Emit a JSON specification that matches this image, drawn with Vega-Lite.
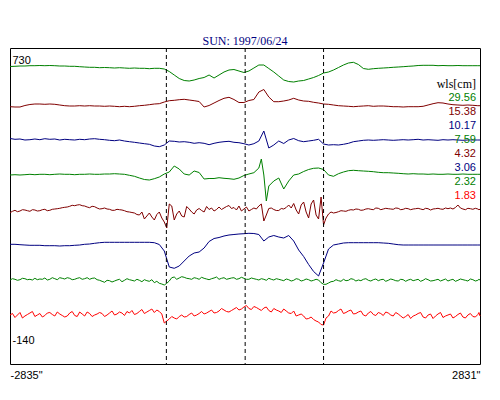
{
  "$schema": "https://vega.github.io/schema/vega-lite/v6.json",
  "width": 470,
  "height": 316,
  "autosize": {"type": "none"},
  "padding": {"left": 10, "top": 48, "right": 20, "bottom": 36},
  "background": "white",
  "title": {"text": "SUN: 1997/06/24", "font": "Liberation Serif", "fontSize": 12, "fontWeight": "normal", "color": "#000080", "anchor": "middle", "offset": 0},
  "config": {"view": {"stroke": "black", "strokeWidth": 1}},
  "datasets": {
    "wls": [
      {"s": "s1", "wl": "29.56"}, {"s": "s2", "wl": "15.38"}, {"s": "s3", "wl": "10.17"}, {"s": "s4", "wl": "7.59"},
      {"s": "s5", "wl": "4.32"}, {"s": "s6", "wl": "3.06"}, {"s": "s7", "wl": "2.32"}, {"s": "s8", "wl": "1.83"}
    ],
    "limbs": [{"limb": -950}, {"limb": 0}, {"limb": 945}],
    "traces": [
      {"x": -2835, "s1": 66.5, "s2": 106.7, "s3": 138.5, "s4": 175, "s5": 212.7, "s6": 244.3, "s7": 280, "s8": 315},
      {"x": -2775, "s1": 66.3, "s2": 107, "s3": 139.3, "s4": 174.7, "s5": 210.3, "s6": 244.3, "s7": 279.3, "s8": 317.5},
      {"x": -2715, "s1": 66, "s2": 107, "s3": 139, "s4": 175, "s5": 211, "s6": 244.7, "s7": 279.7, "s8": 312.5},
      {"x": -2655, "s1": 66, "s2": 105.5, "s3": 140, "s4": 174.7, "s5": 210, "s6": 245, "s7": 278.7, "s8": 316},
      {"x": -2595, "s1": 65.7, "s2": 104.5, "s3": 139.7, "s4": 174.3, "s5": 211.3, "s6": 245.3, "s7": 279.3, "s8": 313},
      {"x": -2535, "s1": 65.7, "s2": 104, "s3": 139, "s4": 174.7, "s5": 210, "s6": 245.3, "s7": 278.3, "s8": 316.5},
      {"x": -2475, "s1": 65.5, "s2": 104, "s3": 139.7, "s4": 174.3, "s5": 210.7, "s6": 245.3, "s7": 279, "s8": 313.5},
      {"x": -2415, "s1": 65.7, "s2": 104.3, "s3": 138.7, "s4": 174.3, "s5": 209.3, "s6": 245.7, "s7": 278, "s8": 315.5},
      {"x": -2355, "s1": 65.5, "s2": 104, "s3": 139.3, "s4": 174.7, "s5": 210.3, "s6": 245.7, "s7": 279.3, "s8": 312.5},
      {"x": -2295, "s1": 65.7, "s2": 104.3, "s3": 139, "s4": 174.3, "s5": 209, "s6": 245.7, "s7": 278.7, "s8": 316},
      {"x": -2235, "s1": 66, "s2": 105, "s3": 140, "s4": 174, "s5": 208.3, "s6": 246, "s7": 277.7, "s8": 314},
      {"x": -2175, "s1": 66, "s2": 105.7, "s3": 139.3, "s4": 174.3, "s5": 207.3, "s6": 245.7, "s7": 279, "s8": 317},
      {"x": -2115, "s1": 66.3, "s2": 106, "s3": 139.7, "s4": 174.3, "s5": 206.3, "s6": 245.7, "s7": 278.3, "s8": 313},
      {"x": -2055, "s1": 66.3, "s2": 106, "s3": 140, "s4": 174.7, "s5": 205.7, "s6": 245.3, "s7": 279.3, "s8": 315.5},
      {"x": -1995, "s1": 66.7, "s2": 105.7, "s3": 139.3, "s4": 174.3, "s5": 204.7, "s6": 245, "s7": 277.7, "s8": 312},
      {"x": -1935, "s1": 67, "s2": 106, "s3": 139.7, "s4": 174.3, "s5": 206, "s6": 244.3, "s7": 278.7, "s8": 316},
      {"x": -1875, "s1": 67.3, "s2": 105.7, "s3": 139, "s4": 174, "s5": 207.7, "s6": 244, "s7": 279.3, "s8": 313.5},
      {"x": -1815, "s1": 67.3, "s2": 106, "s3": 138.7, "s4": 174.3, "s5": 206.7, "s6": 243.3, "s7": 278, "s8": 315},
      {"x": -1755, "s1": 67.7, "s2": 106, "s3": 139.3, "s4": 174.3, "s5": 209, "s6": 242.7, "s7": 280.3, "s8": 312.5},
      {"x": -1695, "s1": 67.5, "s2": 106.3, "s3": 139.7, "s4": 174, "s5": 208, "s6": 242.3, "s7": 282.3, "s8": 316.5},
      {"x": -1635, "s1": 67.7, "s2": 106, "s3": 140.3, "s4": 174, "s5": 209.3, "s6": 242.3, "s7": 280.7, "s8": 313},
      {"x": -1575, "s1": 68, "s2": 106.3, "s3": 140.7, "s4": 173.7, "s5": 210.3, "s6": 242.3, "s7": 281, "s8": 315},
      {"x": -1515, "s1": 67.7, "s2": 106.7, "s3": 140, "s4": 174, "s5": 209.7, "s6": 242.3, "s7": 279.3, "s8": 312},
      {"x": -1455, "s1": 68, "s2": 106.3, "s3": 141, "s4": 174.3, "s5": 210.7, "s6": 242.3, "s7": 280.3, "s8": 315.5},
      {"x": -1395, "s1": 68.3, "s2": 106.7, "s3": 141.7, "s4": 175.3, "s5": 212, "s6": 242.3, "s7": 279.7, "s8": 313},
      {"x": -1335, "s1": 68, "s2": 106.3, "s3": 142.3, "s4": 176.3, "s5": 213, "s6": 242.3, "s7": 281, "s8": 314.5},
      {"x": -1275, "s1": 68.3, "s2": 105.7, "s3": 143, "s4": 178, "s5": 215, "s6": 242.3, "s7": 280.3, "s8": 311.5},
      {"x": -1215, "s1": 68.3, "s2": 105.3, "s3": 143.7, "s4": 179.5, "s5": 219, "s6": 242.3, "s7": 279.7, "s8": 313.5},
      {"x": -1155, "s1": 68.7, "s2": 104.7, "s3": 144.3, "s4": 180, "s5": 213, "s6": 242.3, "s7": 281.3, "s8": 310.5},
      {"x": -1095, "s1": 68.3, "s2": 104, "s3": 146, "s4": 178.7, "s5": 220, "s6": 242.7, "s7": 282.7, "s8": 312.5},
      {"x": -1035, "s1": 68.3, "s2": 103.7, "s3": 146.7, "s4": 177, "s5": 212, "s6": 244.5, "s7": 283.3, "s8": 311.5},
      {"x": -975, "s1": 69, "s2": 102, "s3": 145, "s4": 174, "s5": 222, "s6": 251, "s7": 285, "s8": 323},
      {"x": -915, "s1": 71.5, "s2": 100.7, "s3": 141, "s4": 172, "s5": 204, "s6": 267, "s7": 281, "s8": 319},
      {"x": -855, "s1": 75, "s2": 100.3, "s3": 141.3, "s4": 166, "s5": 220, "s6": 268.3, "s7": 277, "s8": 318},
      {"x": -795, "s1": 78.5, "s2": 99.7, "s3": 142, "s4": 169, "s5": 211, "s6": 266, "s7": 278, "s8": 316.5},
      {"x": -735, "s1": 80.5, "s2": 99.3, "s3": 141.7, "s4": 174, "s5": 217, "s6": 261, "s7": 277.3, "s8": 317},
      {"x": -675, "s1": 81, "s2": 100, "s3": 142.3, "s4": 175, "s5": 209, "s6": 256, "s7": 278.7, "s8": 314.5},
      {"x": -615, "s1": 80, "s2": 100.7, "s3": 143.3, "s4": 171, "s5": 214, "s6": 253, "s7": 277.7, "s8": 316},
      {"x": -555, "s1": 78.5, "s2": 101.5, "s3": 142.7, "s4": 172.5, "s5": 208.5, "s6": 252, "s7": 279.3, "s8": 313.5},
      {"x": -495, "s1": 77.5, "s2": 107, "s3": 143.3, "s4": 179, "s5": 212, "s6": 248, "s7": 278.3, "s8": 314},
      {"x": -435, "s1": 75, "s2": 105.5, "s3": 144.7, "s4": 178.5, "s5": 209.5, "s6": 241.5, "s7": 279.7, "s8": 311.5},
      {"x": -375, "s1": 78, "s2": 103, "s3": 143.3, "s4": 178.5, "s5": 211, "s6": 238.5, "s7": 278, "s8": 313},
      {"x": -315, "s1": 75, "s2": 100.5, "s3": 142.3, "s4": 177.7, "s5": 207, "s6": 237.5, "s7": 279.3, "s8": 311},
      {"x": -255, "s1": 72, "s2": 98.3, "s3": 141.7, "s4": 178.3, "s5": 208, "s6": 236, "s7": 277.7, "s8": 310},
      {"x": -195, "s1": 70, "s2": 97.3, "s3": 141.3, "s4": 178.7, "s5": 205.5, "s6": 235, "s7": 278.7, "s8": 312},
      {"x": -135, "s1": 69.5, "s2": 99.5, "s3": 142.3, "s4": 179.3, "s5": 207.5, "s6": 234.5, "s7": 277.7, "s8": 309},
      {"x": -75, "s1": 71, "s2": 102.5, "s3": 142.7, "s4": 178, "s5": 206, "s6": 234, "s7": 278.7, "s8": 310},
      {"x": -15, "s1": 72.5, "s2": 102.5, "s3": 143.7, "s4": 175.5, "s5": 209, "s6": 233.7, "s7": 278.3, "s8": 307},
      {"x": 45, "s1": 71, "s2": 100.5, "s3": 145, "s4": 174, "s5": 211, "s6": 233.3, "s7": 279.3, "s8": 308.5},
      {"x": 105, "s1": 68, "s2": 99.5, "s3": 143.7, "s4": 172.7, "s5": 208, "s6": 233.5, "s7": 278.7, "s8": 306.5},
      {"x": 165, "s1": 65, "s2": 92, "s3": 141, "s4": 168, "s5": 206, "s6": 234.5, "s7": 280, "s8": 309},
      {"x": 225, "s1": 65, "s2": 89.5, "s3": 131, "s4": 175, "s5": 221, "s6": 241, "s7": 279.3, "s8": 308},
      {"x": 285, "s1": 68.5, "s2": 97, "s3": 148, "s4": 186, "s5": 208.5, "s6": 237, "s7": 278.3, "s8": 310.5},
      {"x": 345, "s1": 72, "s2": 101.7, "s3": 145, "s4": 181, "s5": 209.5, "s6": 235.5, "s7": 280, "s8": 308.5},
      {"x": 405, "s1": 76, "s2": 101.7, "s3": 141, "s4": 178, "s5": 210.5, "s6": 237, "s7": 279.3, "s8": 311},
      {"x": 465, "s1": 80, "s2": 101, "s3": 143.5, "s4": 189, "s5": 209, "s6": 238, "s7": 280.7, "s8": 309},
      {"x": 525, "s1": 81.5, "s2": 100, "s3": 140, "s4": 181, "s5": 205, "s6": 235.5, "s7": 279.7, "s8": 313},
      {"x": 585, "s1": 82, "s2": 98.3, "s3": 138.5, "s4": 175, "s5": 203.5, "s6": 241, "s7": 280.3, "s8": 311},
      {"x": 645, "s1": 81, "s2": 100, "s3": 140.7, "s4": 174, "s5": 214, "s6": 250, "s7": 279.3, "s8": 315},
      {"x": 705, "s1": 80.5, "s2": 101, "s3": 141.7, "s4": 171.5, "s5": 202, "s6": 256.5, "s7": 280.3, "s8": 316},
      {"x": 765, "s1": 79, "s2": 101.3, "s3": 141, "s4": 169.5, "s5": 218, "s6": 264.5, "s7": 279.7, "s8": 318.5},
      {"x": 825, "s1": 77.5, "s2": 102.3, "s3": 140.3, "s4": 168.3, "s5": 200, "s6": 271.5, "s7": 280.3, "s8": 319.5},
      {"x": 885, "s1": 75.5, "s2": 103, "s3": 139.3, "s4": 168, "s5": 219, "s6": 276, "s7": 280, "s8": 322},
      {"x": 945, "s1": 73, "s2": 104, "s3": 144, "s4": 169.5, "s5": 225, "s6": 263, "s7": 284.3, "s8": 325},
      {"x": 1005, "s1": 72, "s2": 104.3, "s3": 145, "s4": 175, "s5": 214, "s6": 249, "s7": 283, "s8": 316},
      {"x": 1065, "s1": 70, "s2": 105, "s3": 144.7, "s4": 176.3, "s5": 213, "s6": 245, "s7": 281.3, "s8": 313},
      {"x": 1125, "s1": 67.5, "s2": 105.7, "s3": 145, "s4": 173.7, "s5": 211.7, "s6": 244, "s7": 280.7, "s8": 310.5},
      {"x": 1185, "s1": 65, "s2": 106, "s3": 144.3, "s4": 172, "s5": 211, "s6": 243, "s7": 279.3, "s8": 313.5},
      {"x": 1245, "s1": 63, "s2": 106.3, "s3": 143.3, "s4": 170.7, "s5": 210.3, "s6": 242.7, "s7": 280.3, "s8": 311},
      {"x": 1305, "s1": 62.3, "s2": 106.7, "s3": 141.7, "s4": 170.3, "s5": 210, "s6": 242.7, "s7": 279.3, "s8": 314},
      {"x": 1365, "s1": 64.5, "s2": 106.3, "s3": 141, "s4": 170.7, "s5": 209.3, "s6": 242.7, "s7": 280, "s8": 312},
      {"x": 1425, "s1": 68.5, "s2": 106, "s3": 140.3, "s4": 171, "s5": 210, "s6": 242.7, "s7": 279.3, "s8": 315},
      {"x": 1485, "s1": 69.3, "s2": 105.7, "s3": 140, "s4": 171.3, "s5": 208.7, "s6": 242.7, "s7": 280.3, "s8": 313},
      {"x": 1545, "s1": 68.7, "s2": 106.3, "s3": 140.3, "s4": 171.7, "s5": 209.7, "s6": 242.7, "s7": 279.7, "s8": 314.5},
      {"x": 1605, "s1": 68.3, "s2": 106, "s3": 140, "s4": 172.3, "s5": 208.3, "s6": 242.7, "s7": 280.7, "s8": 312.5},
      {"x": 1665, "s1": 68, "s2": 106, "s3": 139.7, "s4": 172.7, "s5": 209, "s6": 243, "s7": 279.3, "s8": 315.5},
      {"x": 1725, "s1": 67.7, "s2": 106.3, "s3": 140, "s4": 172.7, "s5": 208.7, "s6": 243.3, "s7": 280.3, "s8": 313},
      {"x": 1785, "s1": 67.3, "s2": 106.7, "s3": 140.3, "s4": 173, "s5": 209.3, "s6": 244, "s7": 279.7, "s8": 316},
      {"x": 1845, "s1": 67, "s2": 106.7, "s3": 140, "s4": 173.3, "s5": 208.3, "s6": 244.7, "s7": 281, "s8": 314},
      {"x": 1905, "s1": 66.7, "s2": 107, "s3": 139.7, "s4": 173.7, "s5": 209.3, "s6": 245, "s7": 279.7, "s8": 318},
      {"x": 1965, "s1": 66.3, "s2": 106.7, "s3": 140, "s4": 174, "s5": 208.7, "s6": 245, "s7": 280, "s8": 314.5},
      {"x": 2025, "s1": 66, "s2": 106.7, "s3": 139.7, "s4": 173.7, "s5": 209, "s6": 245, "s7": 280.7, "s8": 316},
      {"x": 2085, "s1": 65.5, "s2": 106.7, "s3": 139.3, "s4": 174, "s5": 208.3, "s6": 245, "s7": 279.3, "s8": 313.5},
      {"x": 2145, "s1": 65.3, "s2": 106.3, "s3": 140, "s4": 174, "s5": 209.7, "s6": 245, "s7": 280.3, "s8": 317},
      {"x": 2205, "s1": 65.3, "s2": 105, "s3": 139.7, "s4": 174.3, "s5": 208.7, "s6": 245, "s7": 279.7, "s8": 315},
      {"x": 2265, "s1": 65.3, "s2": 103.7, "s3": 140, "s4": 174, "s5": 209, "s6": 245, "s7": 280.7, "s8": 318.5},
      {"x": 2325, "s1": 65.7, "s2": 102.7, "s3": 140.3, "s4": 174.3, "s5": 208.3, "s6": 245, "s7": 279.3, "s8": 314},
      {"x": 2385, "s1": 65.5, "s2": 103, "s3": 139.7, "s4": 174.3, "s5": 209.3, "s6": 245, "s7": 280, "s8": 317.5},
      {"x": 2445, "s1": 65.7, "s2": 104, "s3": 140, "s4": 174, "s5": 208.7, "s6": 245, "s7": 281, "s8": 315},
      {"x": 2505, "s1": 65.7, "s2": 104.7, "s3": 139.7, "s4": 174.3, "s5": 209, "s6": 245, "s7": 279.3, "s8": 318},
      {"x": 2565, "s1": 65.5, "s2": 105, "s3": 140, "s4": 174.3, "s5": 205, "s6": 245, "s7": 280.3, "s8": 314.5},
      {"x": 2625, "s1": 65.7, "s2": 105.3, "s3": 140.3, "s4": 174, "s5": 209, "s6": 245, "s7": 279.7, "s8": 317},
      {"x": 2685, "s1": 65.7, "s2": 105, "s3": 140, "s4": 174.3, "s5": 208.3, "s6": 245, "s7": 281, "s8": 315},
      {"x": 2745, "s1": 65.7, "s2": 105.3, "s3": 140, "s4": 174.3, "s5": 209.3, "s6": 245, "s7": 279.7, "s8": 316.5},
      {"x": 2805, "s1": 65.7, "s2": 105.7, "s3": 140, "s4": 174.3, "s5": 209, "s6": 245, "s7": 280.3, "s8": 314.5},
      {"x": 2831, "s1": 65.7, "s2": 105.7, "s3": 140, "s4": 174.3, "s5": 209.3, "s6": 245, "s7": 280, "s8": 316},
      {"x": -2805, "s5": 211.3, "s7": 278.7, "s8": 313.5},
      {"x": -2745, "s5": 211.7, "s7": 280.3, "s8": 315},
      {"x": -2685, "s5": 209.7, "s7": 278.3, "s8": 318},
      {"x": -2625, "s5": 210.7, "s7": 279.7, "s8": 314.5},
      {"x": -2565, "s5": 209.7, "s7": 280, "s8": 311.5},
      {"x": -2505, "s5": 211, "s7": 279.7, "s8": 315},
      {"x": -2445, "s5": 209.7, "s7": 279.3, "s8": 317},
      {"x": -2385, "s5": 210.7, "s7": 280, "s8": 313},
      {"x": -2325, "s5": 209.3, "s7": 277.7, "s8": 314.5},
      {"x": -2265, "s5": 208.7, "s7": 279.7, "s8": 312},
      {"x": -2205, "s5": 207.7, "s7": 278.3, "s8": 315.5},
      {"x": -2145, "s5": 207, "s7": 277.7, "s8": 316},
      {"x": -2085, "s5": 205.3, "s7": 279.7, "s8": 311.5},
      {"x": -2025, "s5": 205, "s7": 278.3, "s8": 316.5},
      {"x": -1965, "s5": 205.7, "s7": 279.3, "s8": 314},
      {"x": -1905, "s5": 207, "s7": 277.7, "s8": 312},
      {"x": -1845, "s5": 206.3, "s7": 278.3, "s8": 316.5},
      {"x": -1785, "s5": 208, "s7": 279.7, "s8": 314},
      {"x": -1725, "s5": 208.7, "s7": 281.3, "s8": 313.5},
      {"x": -1665, "s5": 209, "s7": 280.3, "s8": 315},
      {"x": -1605, "s5": 210.3, "s7": 282, "s8": 311},
      {"x": -1545, "s5": 209.3, "s7": 280, "s8": 314},
      {"x": -1485, "s5": 210, "s7": 281.7, "s8": 313},
      {"x": -1425, "s5": 211.7, "s7": 278.7, "s8": 311.5},
      {"x": -1365, "s5": 212.5, "s7": 280.3, "s8": 310.5},
      {"x": -1305, "s5": 214.5, "s7": 279.3, "s8": 313.5},
      {"x": -1245, "s5": 212, "s7": 281.7, "s8": 309.5},
      {"x": -1185, "s5": 216, "s7": 280.7, "s8": 312},
      {"x": -1125, "s5": 217, "s7": 279.7, "s8": 309},
      {"x": -1065, "s5": 214.5, "s7": 281.3, "s8": 310},
      {"x": -1005, "s5": 218, "s7": 284, "s8": 314},
      {"x": -945, "s5": 228, "s7": 283.3, "s8": 321},
      {"x": -885, "s5": 206, "s7": 277.7, "s8": 316.5},
      {"x": -825, "s5": 214, "s7": 279.3, "s8": 319},
      {"x": -765, "s5": 216, "s7": 276.7, "s8": 315},
      {"x": -705, "s5": 206.5, "s7": 278.3, "s8": 316.5},
      {"x": -645, "s5": 212, "s7": 279.3, "s8": 313},
      {"x": -585, "s5": 210, "s7": 278.3, "s8": 315},
      {"x": -525, "s5": 210.5, "s7": 277.3, "s8": 311.5},
      {"x": -465, "s5": 206.5, "s7": 279, "s8": 313},
      {"x": -405, "s5": 208, "s7": 278.7, "s8": 310},
      {"x": -345, "s5": 209.5, "s7": 277, "s8": 312.5},
      {"x": -285, "s5": 209.5, "s7": 278.3, "s8": 308.5},
      {"x": -225, "s5": 206.5, "s7": 279.3, "s8": 311.5},
      {"x": -165, "s5": 208.5, "s7": 278, "s8": 310.5},
      {"x": -105, "s5": 210, "s7": 279.3, "s8": 307.5},
      {"x": -45, "s5": 211, "s7": 277.3, "s8": 309},
      {"x": 15, "s5": 207, "s7": 279.3, "s8": 305.5},
      {"x": 75, "s5": 209.5, "s7": 278, "s8": 309.5},
      {"x": 135, "s5": 209, "s7": 279.3, "s8": 307.5},
      {"x": 195, "s4": 159, "s5": 204, "s7": 278.7, "s8": 310.5},
      {"x": 255, "s4": 201, "s5": 215, "s7": 280.3, "s8": 307},
      {"x": 315, "s5": 208, "s7": 279.3, "s8": 312},
      {"x": 375, "s5": 210.5, "s7": 278.7, "s8": 310},
      {"x": 435, "s5": 208.5, "s7": 280, "s8": 312.5},
      {"x": 495, "s5": 207.5, "s7": 279, "s8": 311},
      {"x": 555, "s5": 208, "s7": 281, "s8": 313.5},
      {"x": 615, "s5": 210, "s7": 278.7, "s8": 316},
      {"x": 675, "s5": 205, "s7": 281, "s8": 314},
      {"x": 735, "s5": 212, "s7": 279, "s8": 319},
      {"x": 795, "s5": 204, "s7": 281, "s8": 317},
      {"x": 855, "s5": 215, "s7": 279.3, "s8": 321},
      {"x": 915, "s5": 197, "s7": 282.7, "s8": 324.5},
      {"x": 975, "s5": 218, "s7": 284.3, "s8": 318},
      {"x": 1035, "s5": 212, "s7": 281.7, "s8": 311},
      {"x": 1095, "s5": 212.5, "s7": 279.7, "s8": 312.5},
      {"x": 1155, "s5": 210.7, "s7": 281.3, "s8": 309},
      {"x": 1215, "s5": 211.3, "s7": 280.7, "s8": 312.5},
      {"x": 1275, "s5": 209.7, "s7": 278.7, "s8": 310},
      {"x": 1335, "s5": 209, "s7": 281, "s8": 313.5},
      {"x": 1395, "s5": 210.3, "s7": 280.7, "s8": 311},
      {"x": 1455, "s5": 209, "s7": 278.7, "s8": 316},
      {"x": 1515, "s5": 209.3, "s7": 281, "s8": 311.5},
      {"x": 1575, "s5": 208, "s7": 279, "s8": 315.5},
      {"x": 1635, "s5": 209.7, "s7": 279.7, "s8": 313.5},
      {"x": 1695, "s5": 208.3, "s7": 281.3, "s8": 312},
      {"x": 1755, "s5": 209, "s7": 279, "s8": 315},
      {"x": 1815, "s5": 208, "s7": 280.7, "s8": 312.5},
      {"x": 1875, "s5": 209.7, "s7": 279.3, "s8": 316},
      {"x": 1935, "s5": 208.3, "s7": 281.3, "s8": 316.5},
      {"x": 1995, "s5": 209.7, "s7": 279.3, "s8": 318.5},
      {"x": 2055, "s5": 208.7, "s7": 280, "s8": 315},
      {"x": 2115, "s5": 209, "s7": 281.3, "s8": 312.5},
      {"x": 2175, "s5": 208.3, "s7": 278.7, "s8": 318},
      {"x": 2235, "s5": 210, "s7": 281, "s8": 314},
      {"x": 2295, "s5": 208.7, "s7": 280, "s8": 316},
      {"x": 2355, "s5": 209, "s7": 281, "s8": 312.5},
      {"x": 2415, "s5": 208, "s7": 279, "s8": 316},
      {"x": 2475, "s5": 208, "s7": 280, "s8": 314},
      {"x": 2535, "s5": 207.5, "s7": 281.3, "s8": 316.5},
      {"x": 2595, "s5": 208, "s7": 279, "s8": 313},
      {"x": 2655, "s5": 209.7, "s7": 280.3, "s8": 318},
      {"x": 2715, "s5": 208.7, "s7": 279, "s8": 313.5},
      {"x": 2775, "s5": 208.3, "s7": 281, "s8": 317},
      {"x": 2818, "s5": 209.7, "s7": 279.3, "s8": 312.5}
    ]
  },
  "layer": [
    {
      "data": {"name": "traces"},
      "transform": [
        {"fold": ["s1", "s2", "s3", "s4", "s5", "s6", "s7", "s8"], "as": ["s", "v"]},
        {"filter": "isValid(datum.v)"},
        {"lookup": "s", "from": {"data": {"name": "wls"}, "key": "s", "fields": ["wl"]}}
      ],
      "mark": {"type": "line", "strokeWidth": 1},
      "encoding": {
        "x": {
          "field": "x", "type": "quantitative",
          "scale": {"domain": [-2835, 2831], "nice": false, "zero": false},
          "axis": {"values": [-2835, 2831], "labelExpr": "datum.value + '\"'", "labelFlush": true, "domain": false, "ticks": false, "grid": false, "title": null, "labelFont": "Liberation Sans", "labelFontSize": 11, "labelColor": "black", "labelPadding": 5}
        },
        "y": {
          "field": "v", "type": "quantitative",
          "scale": {"domain": [48, 364], "reverse": true, "nice": false, "zero": false},
          "axis": {"values": [60.5, 340.5], "labelExpr": "datum.value < 200 ? '730' : '-140'", "labelAlign": "left", "labelBaseline": "middle", "labelPadding": -2, "tickSize": 0, "domain": false, "ticks": false, "grid": false, "title": null, "labelFont": "Liberation Sans", "labelFontSize": 11, "labelColor": "black"}
        },
        "color": {
          "field": "wl", "type": "nominal",
          "scale": {"domain": ["29.56", "15.38", "10.17", "7.59", "4.32", "3.06", "2.32", "1.83"], "range": ["#008000", "#800000", "#000080", "#008000", "#800000", "#000080", "#008000", "#ff0000"]},
          "legend": {
            "orient": "none", "legendX": 427, "legendY": 31,
            "title": "wls[cm]", "titleFont": "Liberation Serif", "titleFontSize": 12, "titleFontWeight": "normal", "titleColor": "black", "titleAlign": "right", "titleAnchor": "end", "titlePadding": 1,
            "labelFont": "Liberation Sans", "labelFontSize": 11, "labelAlign": "right", "labelOffset": 0,
            "symbolSize": 0, "symbolOpacity": 0, "symbolStrokeWidth": 0, "rowPadding": 2, "padding": 0,
            "encode": {"labels": {"update": {"fill": {"scale": "color", "field": "value"}}}}
          }
        }
      }
    },
    {
      "data": {"name": "limbs"},
      "mark": {"type": "rule", "strokeDash": [4, 3], "color": "black", "strokeWidth": 1},
      "encoding": {"x": {"field": "limb", "type": "quantitative"}}
    }
  ]
}
